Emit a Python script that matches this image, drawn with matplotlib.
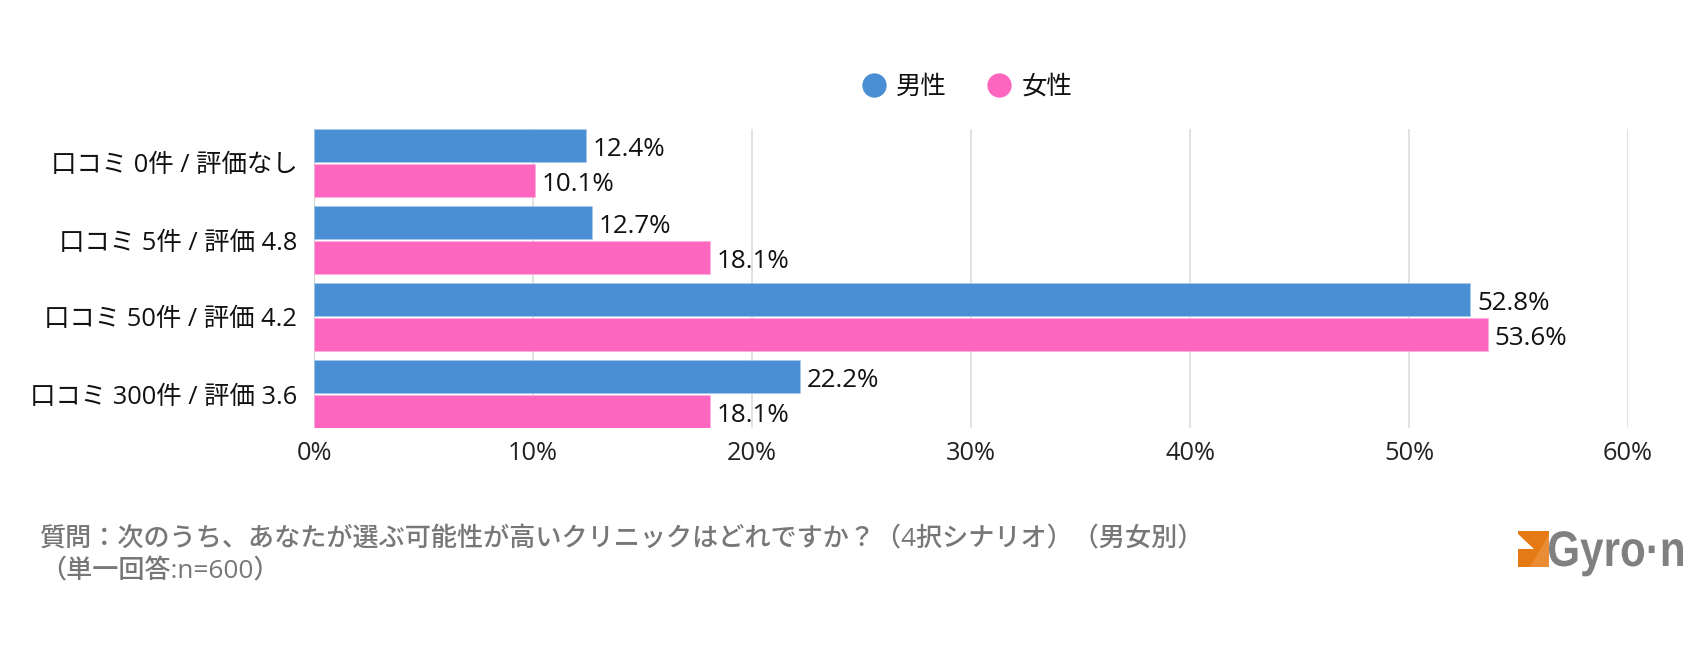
import matplotlib
matplotlib.use("Agg")
import matplotlib.pyplot as plt
from matplotlib.patches import Rectangle, Polygon, PathPatch
from matplotlib.textpath import TextPath
from matplotlib.font_manager import FontProperties
from matplotlib.transforms import Affine2D
import numpy as np

plt.rcParams['font.family'] = ['Open Sans', 'Noto Sans CJK JP', 'DejaVu Sans']

# Data
categories = ["口コミ 0件 / 評価なし", "口コミ 5件 / 評価 4.8", "口コミ 50件 / 評価 4.2", "口コミ 300件 / 評価 3.6"]
male = [12.4, 12.7, 52.8, 22.2]
female = [10.1, 18.1, 53.6, 18.1]
xticks = [0, 10, 20, 30, 40, 50, 60]

W, H = 1700, 652
BLUE = "#4a8ed4"
PINK = "#ff66c0"
FS = 18.3

fig = plt.figure(figsize=(W / 100, H / 100), dpi=100, facecolor="white")
ax = fig.add_axes([314 / W, 1 - 428 / H, (1628 - 314) / W, (428 - 129) / H])

y = np.arange(len(categories))
bar_h = 33 / 77
off = 17.5 / 77
ax.barh(y - off, male, height=bar_h, color=BLUE, edgecolor="#a9c9ea", linewidth=0.5, zorder=3)
ax.barh(y + off, female, height=bar_h, color=PINK, edgecolor="#ffb0de", linewidth=0.5, zorder=3)

for yi, m, f in zip(y, male, female):
    ax.text(m + 0.3, yi - off + 0.055, f"{m}%", va="center", ha="left", fontsize=18.7, color="#111111")
    ax.text(f + 0.3, yi + off + 0.055, f"{f}%", va="center", ha="left", fontsize=18.7, color="#111111")

ax.set_xlim(0, 60)
ax.set_ylim(3 + 34 / 77, -34 / 77)
ax.set_xticks(xticks)
ax.set_xticklabels([f"{t}%" for t in xticks], fontsize=FS, color="#222222")
ax.set_yticks(y)
ax.set_yticklabels(categories, fontsize=FS, color="#111111")
ax.tick_params(axis="both", length=0)
ax.tick_params(axis="x", pad=9)
ax.tick_params(axis="y", pad=12)
ax.grid(axis="x", color="#dddddd", linewidth=1.2, zorder=0)
ax.set_axisbelow(True)
for s in ax.spines.values():
    s.set_visible(False)
ax.axvline(0, color="#cccccc", linewidth=1.2, zorder=1)

# Legend
for cx, col, label, tx in [(874, BLUE, "男性", 896), (999, PINK, "女性", 1022)]:
    fig.add_artist(plt.Line2D([cx / W], [1 - 85 / H], marker="o", markersize=17.5, color=col,
                              markeredgewidth=0, linestyle="none"))
    fig.text(tx / W, 1 - 87 / H, label, fontsize=FS, va="center", ha="left", color="#111111")

# Footnote
fig.text(40 / W, 1 - 539 / H, "質問：次のうち、あなたが選ぶ可能性が高いクリニックはどれですか？（4択シナリオ）（男女別）",
         fontsize=18.8, fontweight="medium", va="center", ha="left", color="#777777")
fig.text(40 / W, 1 - 572 / H, "（単一回答:n=600）", fontsize=18.8, fontweight="medium", va="center", ha="left", color="#777777")

# Logo
px = lambda x, y: (x / W, 1 - y / H)
fig.add_artist(Rectangle(px(1518, 567), 31 / W, 36 / H, transform=fig.transFigure, color="#e57a14", lw=0))
fig.add_artist(Polygon([px(1518, 534), px(1534, 549), px(1518, 549)], transform=fig.transFigure, color="white", lw=0))
fig.add_artist(Polygon([px(1549, 534), px(1549, 567), px(1530, 567)], transform=fig.transFigure, color="#ea8c33", lw=0))
logo = TextPath((0, 0), "Gyro·n", size=50, prop=FontProperties(family="Liberation Sans", weight="bold"))
logo_tf = Affine2D().scale(134 / logo.get_extents().width, 1).translate(1549 - logo.get_extents().x0 * 134 / logo.get_extents().width, H - 566)
fig.add_artist(PathPatch(logo, transform=logo_tf, color="#808080", lw=0))

fig.savefig("out.png", dpi=100)
